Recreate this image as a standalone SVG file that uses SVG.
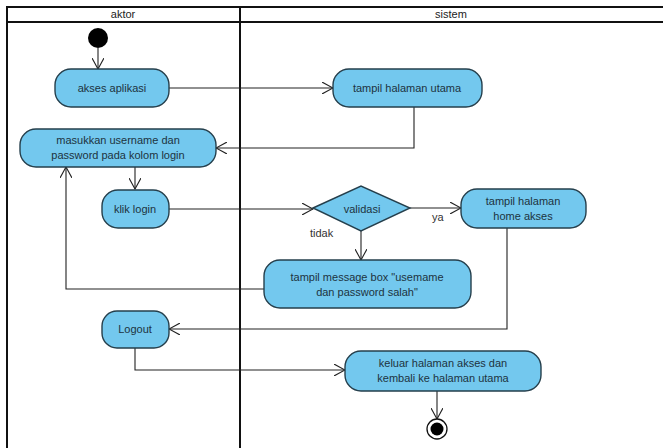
<svg xmlns="http://www.w3.org/2000/svg" width="663" height="448" viewBox="0 0 663 448">
  <defs>
    <style>
      .lane { fill: none; stroke: #111; stroke-width: 2; }
      .head { font-family: "Liberation Sans", Arial, sans-serif; font-size: 11px; fill: #222; text-anchor: middle; }
      .act { fill: #73c8ee; stroke: #253f4c; stroke-width: 1.4; }
      .lbl { font-family: "Liberation Sans", Arial, sans-serif; font-size: 11px; fill: #1d3340; text-anchor: middle; }
      .edge { fill: none; stroke: #222; stroke-width: 1.1; marker-end: url(#open); }
      .plain { fill: none; stroke: #222; stroke-width: 1.1; }
      .guard { font-family: "Liberation Sans", Arial, sans-serif; font-size: 11px; fill: #333; }
    </style>
    <marker id="open" viewBox="0 0 12 12" refX="11" refY="6" markerWidth="12" markerHeight="12" markerUnits="userSpaceOnUse" orient="auto">
      <path d="M0,0 L11,6 L0,12" fill="none" stroke="#222" stroke-width="1.1"/>
    </marker>
  </defs>

  <rect width="663" height="448" fill="#fff"/>

  <!-- swimlanes -->
  <g id="lanes">
    <path class="lane" d="M664,7 H7 V449"/>
    <path class="lane" d="M7,22 H664"/>
    <path class="lane" d="M240,7 V449" stroke-width="2.5"/>
    <text class="head" x="123" y="18">aktor</text>
    <text class="head" x="451" y="18">sistem</text>
  </g>

  <!-- connectors -->
  <g id="connectors">
    <path class="edge" d="M98,48 V69"/>
    <path class="edge" d="M169,88 H333"/>
    <path class="edge" d="M414,107 V148 H216"/>
    <path class="edge" d="M135,167 V189"/>
    <path class="edge" d="M169,209 H313"/>
    <path class="edge" d="M410,208 H461"/>
    <path class="edge" d="M361,231 V260"/>
    <path class="edge" d="M264,289 H66 V167"/>
    <path class="edge" d="M507,228 V329 H169"/>
    <path class="edge" d="M135,348 V370 H345"/>
    <path class="edge" d="M437,391 V419"/>
    <text class="guard" x="432" y="221">ya</text>
    <text class="guard" x="310" y="237">tidak</text>
  </g>

  <g id="start">
    <circle cx="98" cy="38" r="10" fill="#000"/>
  </g>

  <g id="akses-aplikasi">
    <rect class="act" x="55" y="69" width="114" height="38" rx="16"/>
    <text class="lbl" x="112" y="92">akses aplikasi</text>
  </g>

  <g id="tampil-halaman-utama">
    <rect class="act" x="333" y="69" width="149" height="38" rx="16"/>
    <text class="lbl" x="407" y="92">tampil halaman utama</text>
  </g>

  <g id="masukkan-login">
    <rect class="act" x="20" y="129" width="196" height="38" rx="16"/>
    <text class="lbl" x="118" y="144">masukkan username dan</text>
    <text class="lbl" x="118" y="159">password pada kolom login</text>
  </g>

  <g id="klik-login">
    <rect class="act" x="102" y="190" width="67" height="38" rx="16"/>
    <text class="lbl" x="135" y="213">klik login</text>
  </g>

  <g id="validasi">
    <polygon class="act" points="313,208 361,186 410,208 361,231"/>
    <text class="lbl" x="362" y="213" font-size="13">validasi</text>
  </g>

  <g id="tampil-home-akses">
    <rect class="act" x="461" y="189" width="125" height="39" rx="16"/>
    <text class="lbl" x="523" y="205">tampil halaman</text>
    <text class="lbl" x="523" y="220">home akses</text>
  </g>

  <g id="pesan-salah">
    <rect class="act" x="264" y="260" width="207" height="48" rx="16"/>
    <text class="lbl" x="367" y="281">tampil message box "usemame</text>
    <text class="lbl" x="367" y="296">dan password salah"</text>
  </g>

  <g id="logout">
    <rect class="act" x="102" y="311" width="67" height="37" rx="15"/>
    <text class="lbl" x="135" y="333">Logout</text>
  </g>

  <g id="keluar">
    <rect class="act" x="345" y="351" width="196" height="40" rx="16"/>
    <text class="lbl" x="443" y="367">keluar halaman akses dan</text>
    <text class="lbl" x="443" y="382">kembali ke halaman utama</text>
  </g>

  <g id="end">
    <circle cx="437" cy="429" r="10" fill="#fff" stroke="#111" stroke-width="1.3"/>
    <circle cx="437" cy="429" r="6.5" fill="#000"/>
  </g>
</svg>
